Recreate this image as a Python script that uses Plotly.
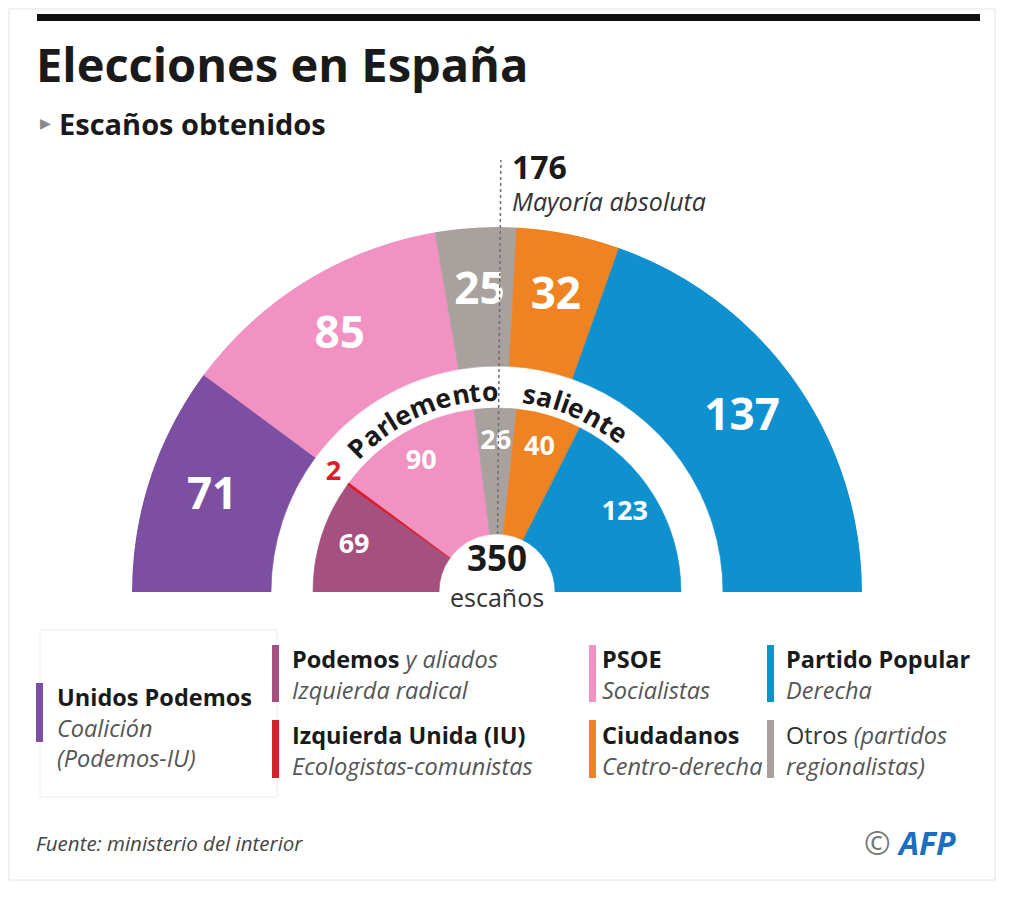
import math
import plotly.graph_objects as go

# ---------------- data ----------------
TOTAL_SEATS = 350
MAJORITY = 176

outer_parties = ["Unidos Podemos", "PSOE", "Otros", "Ciudadanos", "Partido Popular"]
outer_seats = [71, 85, 25, 32, 137]
outer_colors = ["#7c4fa3", "#f192c2", "#a8a19e", "#ef8221", "#0f90cf"]

inner_parties = ["Podemos y aliados", "Izquierda Unida", "PSOE", "Otros", "Ciudadanos", "Partido Popular"]
inner_seats = [69, 2, 90, 26, 40, 123]
inner_colors = ["#a5507e", "#d71f2b", "#f192c2", "#a8a19e", "#ef8221", "#0f90cf"]
inner_label_colors = ["white", "#d71f2b", "white", "white", "white", "white"]

legend_entries = [
    ("Unidos Podemos", "", ["Coalición", "(Podemos-IU)"], "#7c4fa3"),
    ("Podemos", " y aliados", ["Izquierda radical"], "#a5507e"),
    ("Izquierda Unida (IU)", "", ["Ecologistas-comunistas"], "#d71f2b"),
    ("PSOE", "", ["Socialistas"], "#f192c2"),
    ("Ciudadanos", "", ["Centro-derecha"], "#ef8221"),
    ("Partido Popular", "", ["Derecha"], "#0f90cf"),
    ("", "", [], "#a8a19e"),
]

# ---------------- geometry / style ----------------
OFF = 8                      # default page body margin
FIG_W, FIG_H = 1013 - 2 * OFF, 900 - 2 * OFF
CX, CY, R = 497, 592, 365
OUT_IN, OUT_OUT = 226, 365
IN_IN, IN_OUT = 58, 184

SANS = "Open Sans, Noto Sans, sans-serif"
DARK = "#1a1a1a"
GREY_TXT = "#555555"


def px(x):
    return (x - OFF) / FIG_W


def py(y):
    return 1 - (y - OFF) / FIG_H


def deg(seats):
    return seats * 180.0 / TOTAL_SEATS


def ring(seats):
    starts, acc = [], 0
    for s in seats:
        starts.append(acc)
        acc += s
    centers = [deg(a + s / 2) for a, s in zip(starts, seats)]
    widths = [deg(s) for s in seats]
    return centers, widths


def polar_xy(seat_pos, r):
    phi = math.radians(180 - deg(seat_pos))
    return CX + r * math.cos(phi), CY - r * math.sin(phi)


fig = go.Figure()

oc, ow = ring(outer_seats)
ic, iw = ring(inner_seats)

fig.add_trace(go.Barpolar(
    r=[OUT_OUT - OUT_IN] * len(outer_seats), base=[OUT_IN] * len(outer_seats),
    theta=oc, width=ow,
    marker=dict(color=outer_colors, line=dict(color=outer_colors, width=0.6)),
    hoverinfo="skip", showlegend=False))
fig.add_trace(go.Barpolar(
    r=[IN_OUT - IN_IN] * len(inner_seats), base=[IN_IN] * len(inner_seats),
    theta=ic, width=iw,
    marker=dict(color=inner_colors, line=dict(color=inner_colors, width=0.6)),
    hoverinfo="skip", showlegend=False))

fig.add_trace(go.Scatterpolar(
    r=[300] * len(outer_seats), theta=oc, mode="text",
    text=[str(v) for v in outer_seats],
    textfont=dict(family=SANS, size=44, color="white", weight="bold"),
    hoverinfo="skip", showlegend=False))

inner_r = [150 if v > 5 else 202 for v in inner_seats]
fig.add_trace(go.Scatterpolar(
    r=inner_r, theta=ic, mode="text",
    text=[str(v) for v in inner_seats],
    textfont=dict(family=SANS, size=27, color=inner_label_colors, weight="bold"),
    hoverinfo="skip", showlegend=False))

fig.update_layout(
    width=FIG_W, height=FIG_H, margin=dict(l=0, r=0, t=0, b=0),
    paper_bgcolor="white", plot_bgcolor="white",
    polar=dict(
        domain=dict(x=[px(CX - R), px(CX + R)], y=[py(CY), py(CY - R)]),
        sector=[0, 180], bgcolor="rgba(0,0,0,0)", bargap=0,
        angularaxis=dict(rotation=180, direction="clockwise", visible=False, showgrid=False),
        radialaxis=dict(range=[0, R], visible=False, showgrid=False),
    ),
)

shapes = []
annotations = []

shapes.append(dict(type="rect", xref="paper", yref="paper", x0=px(9), x1=px(995), y0=py(880), y1=py(9),
                   line=dict(color="#e2e2e2", width=1), fillcolor="rgba(0,0,0,0)", layer="below"))
shapes.append(dict(type="rect", xref="paper", yref="paper", x0=px(37), x1=px(980), y0=py(21), y1=py(14),
                   line=dict(width=0), fillcolor="#111111"))

x0, y0 = polar_xy(MAJORITY, IN_IN)
x1, y1 = polar_xy(MAJORITY, 432)
shapes.append(dict(type="line", xref="paper", yref="paper", x0=px(x0), y0=py(y0), x1=px(x1), y1=py(y1),
                   line=dict(color="#6e6e6e", width=1.5, dash="dot"), layer="above"))


def note(text, x, y, size, family=SANS, color=DARK, xanchor="left", **kw):
    annotations.append(dict(text=text, x=px(x), y=py(y), xref="paper", yref="paper",
                            xanchor=xanchor, yanchor="middle", showarrow=False,
                            font=dict(family=family, size=size, color=color), **kw))


note("<b>Elecciones en España</b>", 34, 64, 47)
note("▶", 38, 123, 14, color="#8a8a8a")
note("<b>Escaños obtenidos</b>", 57, 124, 29)

note("<b>176</b>", 510, 166, 32)
note("<i>Mayoría absoluta</i>", 510, 201, 25, color="#333333")

note("<b>350</b>", CX, 557, 35, xanchor="center")
note("escaños", CX, 597, 25, color="#333333", xanchor="center")

CW = {"P": .66, "a": .60, "r": .45, "l": .30, "e": .60, "m": .93, "n": .66, "t": .43, "o": .64,
      "s": .51, "i": .30}
TRACK = 1.07


def curved(word, center_phi, radius, size):
    widths = [CW.get(c, .6) * size * TRACK for c in word]
    total = sum(widths)
    span = math.degrees(total / radius)
    phi = center_phi + span / 2
    for c, w in zip(word, widths):
        dphi = math.degrees(w / radius)
        a = phi - dphi / 2
        x = CX + radius * math.cos(math.radians(a))
        y = CY - radius * math.sin(math.radians(a))
        note(f"<b>{c}</b>", x, y, size, xanchor="center", textangle=90 - a)
        phi -= dphi


curved("Parlemento", 113, 201, 26.5)
curved("saliente", 66.5, 201, 26.5)

shapes.append(dict(type="rect", xref="paper", yref="paper", x0=px(40), x1=px(277), y0=py(797), y1=py(630),
                   line=dict(color="#ececec", width=1), fillcolor="rgba(0,0,0,0)", layer="below"))

legend_layout = [
    (36, 683, 742, 55, 727),
    (272, 645, 702, 290, 674),
    (272, 720, 778, 290, 750),
    (589, 645, 702, 600, 674),
    (589, 720, 778, 600, 750),
    (767, 645, 702, 784, 674),
    (767, 720, 778, 784, 750),
]
LEG_SIZE = 23.5
for (bold, ital, lines, col), (bx, by0, by1, tx, ty) in zip(legend_entries, legend_layout):
    shapes.append(dict(type="rect", xref="paper", yref="paper", x0=px(bx), x1=px(bx + 7),
                       y0=py(by1), y1=py(by0), line=dict(width=0), fillcolor=col))
    if bold:
        first = f"<b>{bold}</b>" + (f"<i><span style='color:{GREY_TXT}'>{ital}</span></i>" if ital else "")
    else:
        first = f"<span style='color:#333'>Otros</span><i><span style='color:{GREY_TXT}'> (partidos</span></i>"
        lines = ["regionalistas)"]
    txt = "<br>".join([first] + [f"<i><span style='color:{GREY_TXT}'>{l}</span></i>" for l in lines])
    note(txt, tx, ty, LEG_SIZE, align="left")

note("<i>Fuente: ministerio del interior</i>", 34, 843, 20.5, color="#444444")
note("<span style='color:#777'>©</span> <b><i><span style='color:#1c6fc0'>AFP</span></i></b>",
     958, 842, 32, color="#1c6fc0", xanchor="right")

fig.update_layout(shapes=shapes, annotations=annotations)
fig.write_html("out.html")
